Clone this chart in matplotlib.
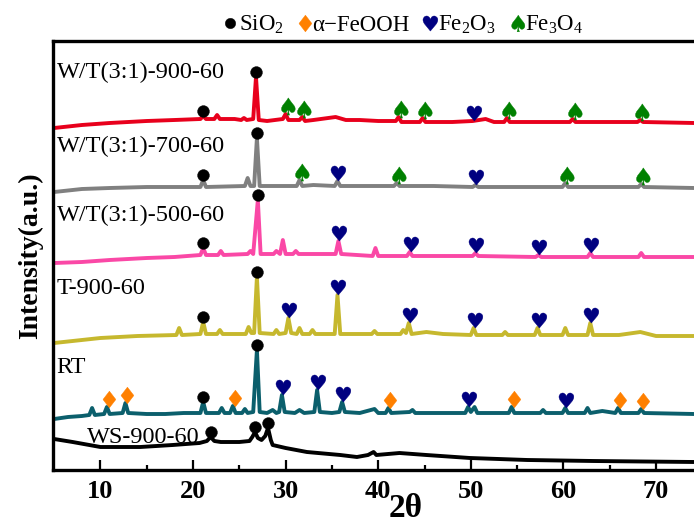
import numpy as np
import matplotlib
matplotlib.use("Agg")
import matplotlib.pyplot as plt
from matplotlib.lines import Line2D
from matplotlib.path import Path
from matplotlib.textpath import TextPath
from matplotlib.font_manager import FontProperties

plt.rcParams["font.family"] = ["Liberation Serif", "DejaVu Serif"]
plt.rcParams["mathtext.fontset"] = "custom"
plt.rcParams["mathtext.rm"] = "Liberation Serif"

# ---- data (2theta, stacked intensity a.u.) ----
SAMPLES = ["W/T(3:1)-900-60", "W/T(3:1)-700-60", "W/T(3:1)-500-60",
           "T-900-60", "RT", "WS-900-60"]
COLORS = ["#e8001c", "#808080", "#fa48a6", "#c6b82e", "#0b5f6c", "#000000"]
LABEL_X = [5.28, 5.28, 5.28, 5.28, 5.28, 8.52]
LABEL_Y = [392, 318, 249, 176, 97, 27]

WT900 = [(5, 342), (8, 345), (11, 347), (15, 349), (18, 350), (20.8, 351), (21.1, 354),
         (21.4, 351), (22.3, 351), (22.6, 355), (22.9, 351), (24.5, 351), (25.2, 350),
         (25.5, 352), (25.8, 350), (26.5, 351), (26.8, 393), (27.1, 350), (28, 349),
         (29.7, 351), (30.0, 356), (30.3, 350), (31.5, 350), (31.8, 353), (32.1, 349),
         (33, 350), (35.4, 353), (36.5, 350), (38, 350), (40, 349), (41.9, 349),
         (42.2, 353), (42.5, 348), (44.5, 348), (44.8, 352), (45.1, 348), (48, 348),
         (50.2, 349), (51.6, 351), (52.5, 348), (53.6, 348), (53.9, 352), (54.2, 348),
         (58, 348), (60.7, 348), (61.0, 351), (61.3, 348), (65, 348), (68.0, 348),
         (68.3, 350), (68.6, 348), (74.1, 347)]
WT700 = [(5, 278), (8, 281), (11, 282), (15, 283), (18, 283), (20.8, 283), (21.1, 290),
         (21.4, 283), (25.6, 284), (25.9, 292), (26.2, 284), (26.6, 284), (26.9, 332),
         (27.2, 284), (30, 284), (31.2, 284), (31.5, 290), (31.8, 284), (33, 285),
         (35.3, 284), (35.6, 289), (35.9, 284), (41.7, 284), (42.0, 287), (42.3, 284),
         (46, 284), (50.2, 283), (50.5, 285), (50.8, 283), (59.9, 283), (60.2, 287),
         (60.5, 283), (68.1, 283), (68.4, 286), (68.7, 283), (74.1, 282)]
WT500 = [(5, 207), (8, 208), (11, 210), (15, 212), (18, 213), (20.8, 215), (21.1, 222),
         (21.4, 215), (22.7, 215), (23.0, 219), (23.3, 215), (25.9, 216), (26.2, 219),
         (26.5, 216), (27.0, 270), (27.3, 216), (28.7, 216), (29.0, 219), (29.4, 216),
         (29.7, 230), (30.0, 216), (30.8, 216), (31.1, 219), (31.4, 216), (35.4, 216),
         (35.7, 229), (36.0, 216), (39.4, 214), (39.7, 222), (40.0, 214), (43.1, 214),
         (43.4, 218), (43.7, 214), (50.2, 214), (50.5, 217), (50.8, 214), (57.0, 213),
         (57.3, 215), (57.6, 213), (62.6, 213), (62.9, 217), (63.2, 213), (68.1, 213),
         (68.4, 217), (68.7, 213), (74.1, 213)]
T900 = [(5, 127), (7, 129), (10, 132), (14, 134), (18.2, 135), (18.5, 142), (18.8, 135),
        (20.8, 136), (21.1, 148), (21.4, 136), (22.6, 136), (22.9, 140), (23.2, 136),
        (25.7, 136), (26.0, 143), (26.3, 137), (26.6, 137), (26.9, 193), (27.2, 137),
        (28.7, 136), (29.0, 140), (29.3, 136), (30.0, 137), (30.3, 152), (30.6, 137),
        (31.2, 136), (31.5, 142), (31.8, 136), (32.6, 136), (32.9, 140), (33.2, 136),
        (35.3, 136), (35.6, 175), (35.9, 136), (39.3, 136), (39.6, 139), (39.9, 136),
        (42.4, 136), (42.7, 140), (43.0, 137), (43.3, 147), (43.6, 136), (45.2, 138),
        (47, 136), (50.0, 135), (50.3, 142), (50.6, 135), (53.4, 135), (53.7, 138),
        (54.0, 135), (56.9, 135), (57.2, 142), (57.5, 135), (59.9, 135), (60.2, 142),
        (60.5, 135), (62.6, 135), (62.9, 147), (63.2, 135), (66, 135), (68.3, 138),
        (70, 134), (74.1, 134)]
RT = [(5, 51), (6.5, 53), (8, 54), (8.8, 55), (9.1, 62), (9.4, 55), (10.4, 56), (10.7, 63),
      (11.0, 56), (12.4, 57), (12.7, 67), (13.0, 57), (15, 56), (17, 56), (19, 57),
      (20.8, 57), (21.1, 68), (21.4, 57), (22.8, 57), (23.1, 62), (23.4, 57), (24.0, 57),
      (24.3, 64), (24.6, 57), (25.3, 57), (25.6, 61), (25.9, 57), (26.5, 58), (26.9, 120),
      (27.2, 58), (28, 57), (28.6, 60), (29.0, 57), (29.3, 58), (29.6, 75), (29.9, 58),
      (31, 57), (31.5, 60), (32, 57), (33.1, 58), (33.4, 80), (33.7, 58), (35, 57),
      (35.8, 58), (36.1, 68), (36.4, 58), (38, 57), (39.6, 61), (40, 57), (40.8, 57),
      (41.1, 62), (41.4, 57), (43.4, 58), (43.7, 60), (44, 57), (47, 57), (49.4, 57),
      (49.7, 63), (50.0, 58), (50.4, 63), (50.7, 57), (54.1, 57), (54.4, 63), (54.7, 57),
      (57.5, 57), (57.8, 60), (58.1, 57), (59.9, 57), (60.2, 62), (60.5, 57), (62.3, 57),
      (62.6, 62), (62.9, 57), (64.2, 59), (65.6, 57), (65.9, 62), (66.2, 57), (68.1, 57),
      (68.4, 61), (68.7, 57), (74.1, 56)]
WS900 = [(5, 31), (7, 28), (10, 23), (14.3, 23), (17.8, 25), (20.7, 27), (21.5, 29),
         (21.9, 33), (22.3, 29), (23, 28), (25, 28), (26.1, 29), (26.4, 33), (26.7, 38),
         (27.0, 32), (27.4, 30), (27.8, 34), (28.1, 42), (28.4, 30), (28.6, 25), (30, 22),
         (32.3, 18), (35.9, 15), (37.7, 13), (38.9, 15), (39.5, 18), (39.8, 15), (42.3, 17),
         (45.2, 15), (49.9, 12), (56.1, 10), (63.2, 9), (74.1, 8)]
TRACES = [WT900, WT700, WT500, T900, RT, WS900]

# phase marks per sample
MARKS_900 = [("SiO2", 21.1), ("SiO2", 26.8), ("Fe3O4", 30.0), ("Fe3O4", 31.8),
             ("Fe3O4", 42.2), ("Fe3O4", 44.8), ("Fe2O3", 50.2), ("Fe3O4", 53.9),
             ("Fe3O4", 61.0), ("Fe3O4", 68.3)]
MARKS_700 = [("SiO2", 21.1), ("SiO2", 26.9), ("Fe3O4", 31.5), ("Fe2O3", 35.6),
             ("Fe3O4", 42.0), ("Fe2O3", 50.5), ("Fe3O4", 60.2), ("Fe3O4", 68.4)]
MARKS_500 = [("SiO2", 21.1), ("SiO2", 27.0), ("Fe2O3", 35.7), ("Fe2O3", 43.4),
             ("Fe2O3", 50.5), ("Fe2O3", 57.3), ("Fe2O3", 62.9)]
MARKS_T = [("SiO2", 21.1), ("SiO2", 26.9), ("Fe2O3", 30.3), ("Fe2O3", 35.6),
           ("Fe2O3", 43.3), ("Fe2O3", 50.3), ("Fe2O3", 57.2), ("Fe2O3", 62.9)]
MARKS_RT = [("FeOOH", 10.7), ("FeOOH", 12.7), ("SiO2", 21.1), ("FeOOH", 24.3),
            ("SiO2", 26.9), ("Fe2O3", 29.6), ("Fe2O3", 33.4), ("Fe2O3", 36.1),
            ("FeOOH", 41.1), ("Fe2O3", 49.7), ("FeOOH", 54.4), ("Fe2O3", 60.2),
            ("FeOOH", 65.9), ("FeOOH", 68.4)]
MARKS_WS = [("SiO2", 21.9), ("SiO2", 26.7), ("SiO2", 28.1)]
MARKS = [MARKS_900, MARKS_700, MARKS_500, MARKS_T, MARKS_RT, MARKS_WS]

PHASES = ["SiO2", "FeOOH", "Fe2O3", "Fe3O4"]
PHASE_LABELS = ["SiO$_2$", "\u03b1\u2212FeOOH", "Fe$_2$O$_3$", "Fe$_3$O$_4$"]


def glyph_marker(ch):
    p = TextPath((0, 0), ch, prop=FontProperties(family="DejaVu Sans"))
    v = p.vertices.copy()
    v -= (v.min(0) + v.max(0)) / 2
    return Path(v, p.codes)


STYLE = {
    "SiO2": dict(marker="o", color="black", ms=8.5, gap=5),
    "FeOOH": dict(marker=glyph_marker("\u2666"), color="#ff8000", ms=12, gap=8),
    "Fe2O3": dict(marker=glyph_marker("\u2665"), color="#000080", ms=12, gap=8),
    "Fe3O4": dict(marker=glyph_marker("\u2660"), color="#008000", ms=12.5, gap=8),
}

fig = plt.figure(figsize=(6.94, 5.26), dpi=100)
ax = fig.add_axes([53 / 694, 1 - 470 / 526, 1 - 53 / 694, (470 - 41) / 526])

for name, col, pts, marks, lx, ly in zip(SAMPLES, COLORS, TRACES, MARKS, LABEL_X, LABEL_Y):
    tt = np.array([p[0] for p in pts])
    ii = np.array([p[1] for p in pts])
    ax.plot(tt, ii, color=col, lw=2.8, solid_joinstyle="round", zorder=2)
    for ph in PHASES:
        pos = [m[1] for m in marks if m[0] == ph]
        if not pos:
            continue
        st = STYLE[ph]
        ys = np.interp(pos, tt, ii) + st["gap"]
        ax.plot(pos, ys, ls="none", marker=st["marker"], ms=st["ms"],
                color=st["color"], mec=st["color"], mew=0.3, zorder=5)
    ax.text(lx, ly, name, fontsize=17.5, ha="left", va="baseline", zorder=6)

ax.set_xlim(4.88, 74.1)
ax.set_ylim(0, 429)
ax.set_yticks([])
ax.set_xticks([10, 20, 30, 40, 50, 60, 70])
ax.set_xticks([15, 25, 35, 45, 55, 65], minor=True)
ax.tick_params(axis="x", which="major", direction="in", length=7.5, width=1.6,
               labelsize=19, pad=7)
ax.tick_params(axis="x", which="minor", direction="in", length=3.8, width=1.6)
for lab in ax.get_xticklabels():
    lab.set_fontweight("bold")
for s in ["left", "bottom", "top"]:
    ax.spines[s].set_linewidth(2.4)
ax.spines["right"].set_visible(False)

ax.set_ylabel("Intensity(a.u.)", fontsize=20, fontweight="bold", labelpad=7)
fig.text(406 / 694, 1 - 493 / 526, "2\u03b8", fontsize=24, fontweight="bold",
         ha="center", va="top")

handles = []
for ph in PHASES:
    st = STYLE[ph]
    handles.append(Line2D([], [], ls="none", marker=st["marker"],
                          ms=7.5 if ph == "SiO2" else 12, color=st["color"],
                          mec=st["color"], mew=0.3))
fig.legend(handles, PHASE_LABELS, loc="center", ncol=4, frameon=False,
           bbox_to_anchor=(403 / 694, 1 - 25 / 526), fontsize=16.5,
           handlelength=0.6, handletextpad=0.1, columnspacing=0.55,
           borderpad=0, borderaxespad=0)

fig.savefig("out.png", dpi=100)
